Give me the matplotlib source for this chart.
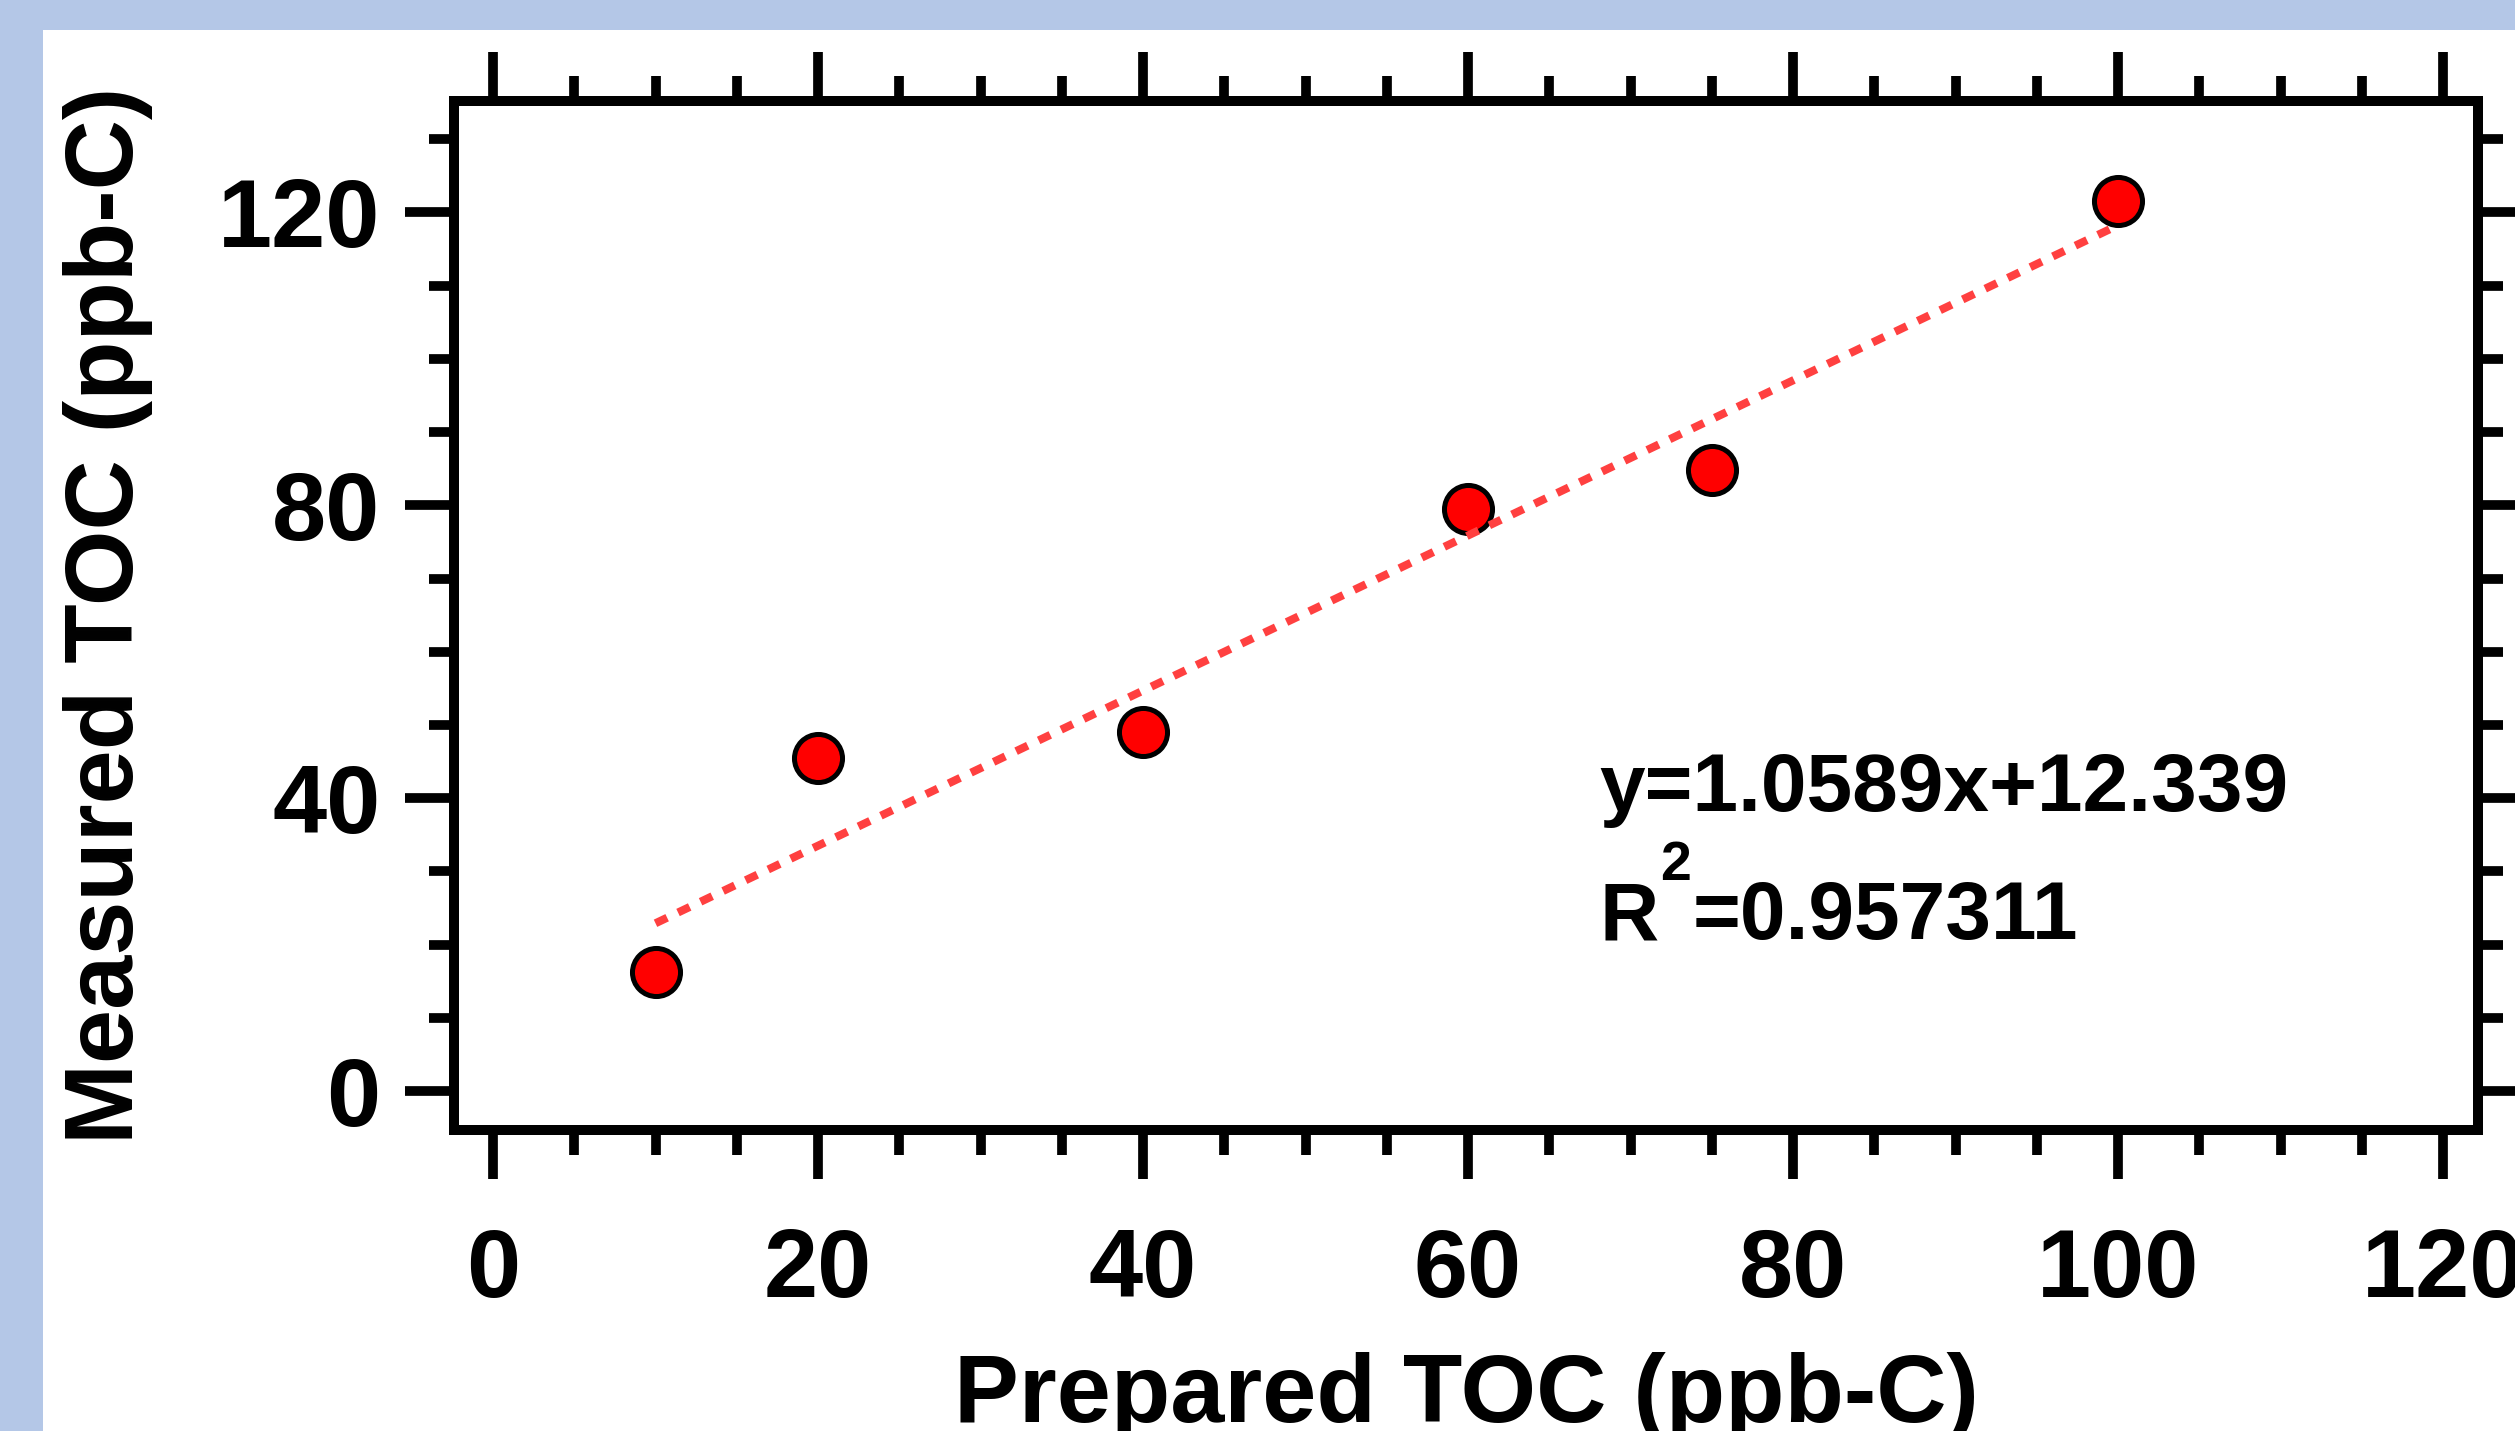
import matplotlib
matplotlib.use('Agg')
import matplotlib.pyplot as plt
from matplotlib.patches import Rectangle
from matplotlib.ticker import MultipleLocator

plt.rcParams['font.family'] = 'Liberation Sans'
plt.rcParams['font.weight'] = 'bold'
plt.rcParams['axes.labelweight'] = 'bold'

# data
prepared = [10, 20, 40, 60, 75, 100]
measured = [16.3, 45.5, 49.0, 79.5, 84.8, 121.6]
slope = 1.0589
intercept = 12.339
r_squared = 0.957311

W, H = 2515, 1431
fig = plt.figure(figsize=(W / 100, H / 100), dpi=100)
fig.patch.set_facecolor('white')

# light blue slide border on top and left
fig.add_artist(Rectangle((0, 1 - 30 / H), 1, 30 / H, transform=fig.transFigure,
                         facecolor='#b4c7e7', edgecolor='none', zorder=0))
fig.add_artist(Rectangle((0, 0), 43 / W, 1, transform=fig.transFigure,
                         facecolor='#b4c7e7', edgecolor='none', zorder=0))

ax = fig.add_axes([454 / W, 1 - 1130 / H, (2478 - 454) / W, (1130 - 101) / H])

# trend line from the printed equation
fit_x = [min(prepared), max(prepared)]
fit_y = [slope * x + intercept for x in fit_x]
ax.plot(fit_x, fit_y, color='#ff4040', lw=5.8, dashes=(1.6, 1.5), zorder=4)

ax.plot(prepared, measured, 'o', ms=34.6, mfc='#ff0000', mec='black', mew=3.6,
        zorder=3, clip_on=False)

ax.set_xlim(-2.4, 122.15)
ax.set_ylim(-5.3, 135.2)
ax.xaxis.set_major_locator(MultipleLocator(20))
ax.xaxis.set_minor_locator(MultipleLocator(5))
ax.yaxis.set_major_locator(MultipleLocator(40))
ax.yaxis.set_minor_locator(MultipleLocator(10))

ax.tick_params(which='both', direction='out', top=True, right=True,
               width=7, labelsize=70, colors='black')
ax.tick_params(which='major', length=35)
ax.tick_params(which='minor', length=18)
ax.tick_params(axis='x', pad=35)
ax.tick_params(axis='y', pad=18)
for s in ax.spines.values():
    s.set_linewidth(7.2)

ax.set_xlabel('Prepared TOC (ppb-C)', fontsize=70, fontweight='bold', va='baseline')
ax.xaxis.set_label_coords(0.5, -0.2838)
ax.set_ylabel('Measured TOC (ppb-C)', fontsize=70, fontweight='bold', va='baseline')
ax.yaxis.set_label_coords(-0.1586, 0.5)

ax.text(68.1, 38.2, f'y={slope}x+{intercept}', fontsize=59, ha='left', va='baseline')

# R^2 line: R, raised small 2, then the value
t_r = ax.text(68.1, 20.75, 'R', fontsize=59, ha='left', va='baseline')
t_sup = ax.annotate('2', xy=(1, 1), xycoords=t_r, xytext=(1, 0),
                    textcoords='offset points', fontsize=40, ha='left', va='baseline')
ax.annotate(f'={r_squared}', xy=(1, 0), xycoords=(t_sup, t_r), xytext=(1, 0),
            textcoords='offset points', fontsize=59, ha='left', va='bottom')

fig.savefig('out.png', dpi=100)
